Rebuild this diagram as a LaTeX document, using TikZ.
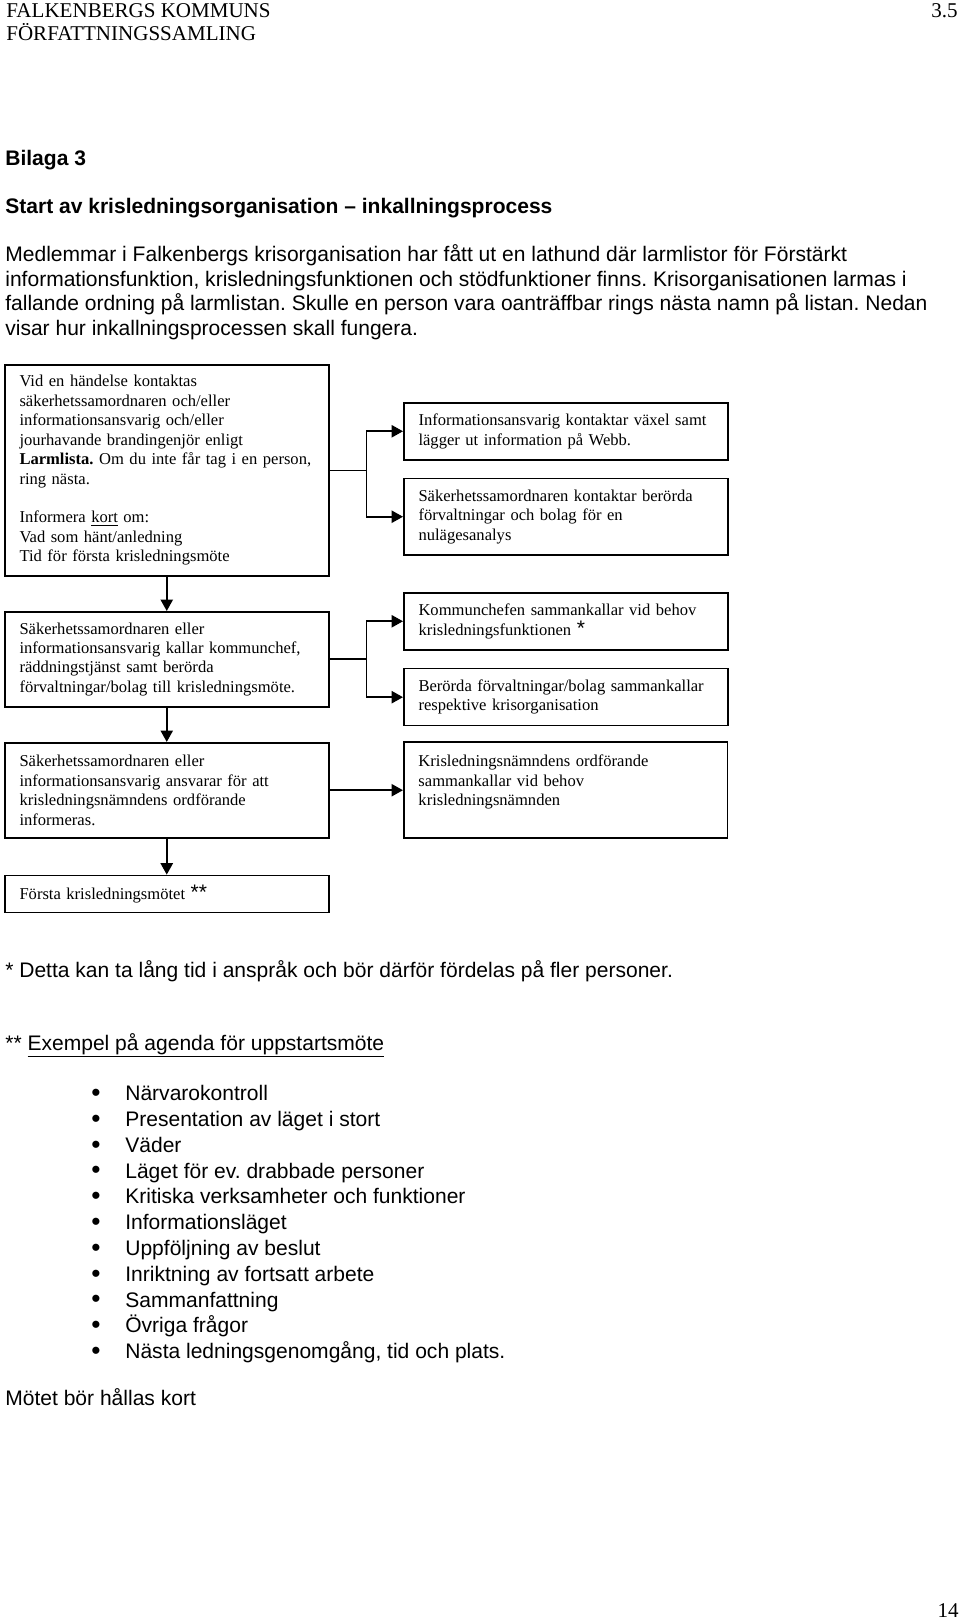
\documentclass[tikz,border=0pt]{standalone}
\usepackage{fontspec}
\setmainfont{Liberation Serif}
\setsansfont{Liberation Sans}
\usetikzlibrary{arrows.meta,positioning}
\frenchspacing
\newcommand\starmark{{\sffamily\fontsize{12}{12}\selectfont *}}

\begin{document}
\begin{tikzpicture}[
x=0.5705pt,y=-0.5705pt,
node distance=19.6pt and 41.9pt,
box/.style={draw,line width=0.9pt,align=left,anchor=north west,text width=168pt,inner xsep=8.4pt,inner ysep=2pt,minimum width=184.8pt,font=\fontsize{9.45}{11.1}\selectfont},
arr/.style={-{Triangle[length=6.5pt,width=7pt]},line width=0.9pt},
body/.style={anchor=base west,align=left,inner sep=0pt,font=\sffamily\fontsize{12}{13.9}\selectfont}]
\useasboundingbox (0,0) rectangle (960,1620);
% page head
\node[anchor=base west,align=left,inner sep=0pt,font=\fontsize{12}{12.7}\selectfont] (head) at (6,40) {FALKENBERGS KOMMUNS\\FÖRFATTNINGSSAMLING};
\node[anchor=base east,inner sep=0pt,font=\fontsize{12}{12}\selectfont] (sect) at (958,17.5) {3.5};
\node[body,font=\sffamily\bfseries\fontsize{12}{13.5}\selectfont] (bilaga) at (5,165) {Bilaga 3};
\node[body,font=\sffamily\bfseries\fontsize{12}{13.5}\selectfont] (title) at (5,213) {Start av krisledningsorganisation -- inkallningsprocess};
\node[body] (intro) at (5,335) {Medlemmar i Falkenbergs krisorganisation har fått ut en lathund där larmlistor för Förstärkt\\
informationsfunktion, krisledningsfunktionen och stödfunktioner finns. Krisorganisationen larmas i\\
fallande ordning på larmlistan. Skulle en person vara oanträffbar rings nästa namn på listan. Nedan\\
visar hur inkallningsprocessen skall fungera.};
% left column
\node[box,minimum height=120.4pt] (larm) at (4,364) {Vid en händelse kontaktas\\
säkerhetssamordnaren och/eller\\
informationsansvarig och/eller\\
jourhavande brandingenjör enligt\\
\textbf{Larmlista.} Om du inte får tag i en person,\\
ring nästa.\\[11.1pt]
Informera \underline{kort} om:\\
Vad som hänt/anledning\\
Tid för första krisledningsmöte};
\node[box,minimum height=54.2pt,below=of larm] (kallar) {Säkerhetssamordnaren eller\\
informationsansvarig kallar kommunchef,\\
räddningstjänst samt berörda\\
förvaltningar/bolag till krisledningsmöte.};
\node[box,minimum height=54.2pt,below=of kallar] (ansvarar) {Säkerhetssamordnaren eller\\
informationsansvarig ansvarar för att\\
krisledningsnämndens ordförande\\
informeras.};
\node[box,minimum height=21.1pt,below=20.6pt of ansvarar] (mote) {Första krisledningsmötet \starmark\starmark};
% right column
\node[box,minimum height=32.5pt] (vaxel) at (403,402) {Informationsansvarig kontaktar växel samt\\
lägger ut information på Webb.};
\node[box,minimum height=43.4pt,below=9.9pt of vaxel] (nulage) {Säkerhetssamordnaren kontaktar berörda\\
förvaltningar och bolag för en\\
nulägesanalys};
\node[box,minimum height=32.5pt] (kchef) at (403,592) {Kommunchefen sammankallar vid behov\\
krisledningsfunktionen \starmark};
\node[box,minimum height=32.5pt,below=9.9pt of kchef] (bolag) {Berörda förvaltningar/bolag sammankallar\\
respektive krisorganisation};
\node[box,minimum height=54.8pt,right=of ansvarar] (namnd) {Krisledningsnämndens ordförande\\
sammankallar vid behov\\
krisledningsnämnden\\
\mbox{}};
\draw[arr] (larm) -- (kallar);
\draw[arr] (kallar) -- (ansvarar);
\draw[arr] (ansvarar) -- (mote);
\draw[arr] (larm.east) -- ++(21.1pt,0) |- (vaxel.west);
\draw[arr] (larm.east) -- ++(21.1pt,0) |- (nulage.west);
\draw[arr] (kallar.east) -- ++(21.1pt,0) |- (kchef.west);
\draw[arr] (kallar.east) -- ++(21.1pt,0) |- (bolag.west);
\draw[arr] (ansvarar) -- (namnd);
% notes and agenda
\node[body] (fotnot) at (5,977) {* Detta kan ta lång tid i anspråk och bör därför fördelas på fler personer.};
\node[body] (agenda) at (5,1050) {** \underline{Exempel på agenda för uppstartsmöte}};
\foreach \txt [count=\i] in {Närvarokontroll,Presentation av läget i stort,Väder,Läget för ev. drabbade personer,Kritiska verksamheter och funktioner,Informationsläget,Uppföljning av beslut,Inriktning av fortsatt arbete,Sammanfattning,Övriga frågor,{Nästa ledningsgenomgång, tid och plats.}}{
  \node[body] (punkt\i) at (125,{1100.7+25.8*(\i-1)}) {\txt};
  \node[body,anchor=base,font=\sffamily\fontsize{15}{15}\selectfont] (dot\i) at (96,{1101.5+25.8*(\i-1)}) {•};
}
\node[body] (kort) at (5,1405) {Mötet bör hållas kort};
\node[anchor=base east,inner sep=0pt,font=\fontsize{12}{12}\selectfont] (sida) at (959,1617) {14};
\end{tikzpicture}
\end{document}
